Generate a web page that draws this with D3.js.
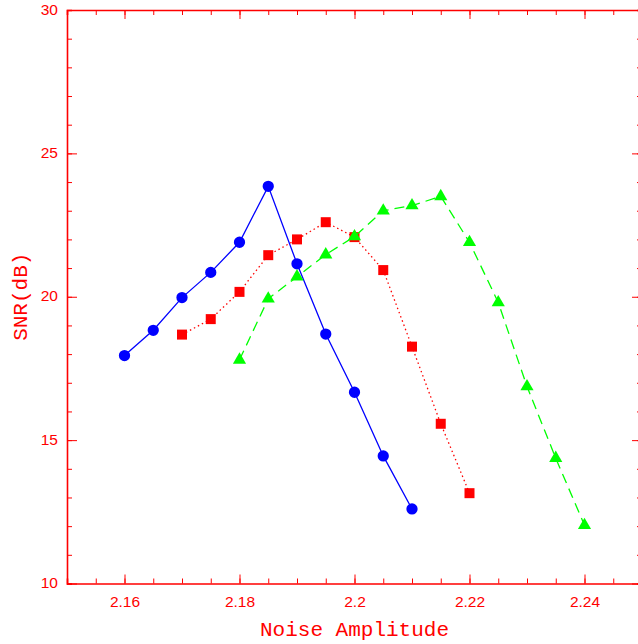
<!DOCTYPE html>
<html><head><meta charset="utf-8">
<script src="https://cdn.jsdelivr.net/npm/d3@7"></script>
<style>body{margin:0;background:#fff}svg{display:block}</style>
</head><body>
<svg id="c" width="638" height="644"></svg>
<script>
const blueX = [2.16,2.165,2.17,2.175,2.18,2.185,2.19,2.195,2.2,2.205,2.21];
const blueY = [17.95,18.83,19.97,20.85,21.9,23.85,21.15,18.7,16.67,14.45,12.6];
const redX = [2.17,2.175,2.18,2.185,2.19,2.195,2.2,2.205,2.21,2.215,2.22];
const redY = [18.68,19.22,20.17,21.45,22.0,22.6,22.08,20.93,18.26,15.57,13.15];
const greenX = [2.18,2.185,2.19,2.195,2.2,2.205,2.21,2.215,2.22,2.225,2.23,2.235,2.24];
const greenY = [17.8,19.93,20.7,21.47,22.1,23.0,23.18,23.5,21.9,19.8,16.87,14.37,12.03];
const xTicks = [2.16,2.18,2.2,2.22,2.24];
const xTickLabels = ["2.16","2.18","2.2","2.22","2.24"];
const yTicks = [10,15,20,25,30];
const yTickLabels = ["10","15","20","25","30"];
const xLabel = "Noise Amplitude";
const yLabel = "SNR(dB)";

const svg = d3.select("#c");
const L = 67, R = 642, T = 10, B = 583.5;
const x = d3.scaleLinear().domain([2.15,2.25]).range([L,R]);
const y = d3.scaleLinear().domain([10,30]).range([B,T]);
const red = "#ff0000";

const xMinor = d3.range(2.15,2.2501,0.005).map(v=>+v.toFixed(3));
const yMinor = d3.range(10,30.01,1);

function styleAxis(g){
  g.select(".domain").attr("stroke",red).attr("stroke-width",1.6);
  g.selectAll(".tick line").attr("stroke",red).attr("stroke-width",1);
  g.selectAll(".tick text").attr("fill",red).attr("font-family","Liberation Sans, Arial, sans-serif").attr("font-size",15.5);
}
// bottom
svg.append("g").attr("transform",`translate(0,${B})`)
  .call(d3.axisBottom(x).tickValues(xMinor).tickSize(-5).tickFormat(""))
  .call(styleAxis);
svg.append("g").attr("transform",`translate(0,${B})`)
  .call(d3.axisBottom(x).tickValues(xTicks).tickSize(-9).tickPadding(19).tickFormat((d,i)=>xTickLabels[i]))
  .call(styleAxis).call(g=>g.select(".domain").remove());
// top
svg.append("g").attr("transform",`translate(0,${T})`)
  .call(d3.axisTop(x).tickValues(xMinor).tickSize(-5).tickFormat(""))
  .call(styleAxis);
svg.append("g").attr("transform",`translate(0,${T})`)
  .call(d3.axisTop(x).tickValues(xTicks).tickSize(-9).tickFormat(""))
  .call(styleAxis).call(g=>g.select(".domain").remove());
// left
svg.append("g").attr("transform",`translate(${L},0)`)
  .call(d3.axisLeft(y).tickValues(yMinor).tickSize(-5).tickFormat(""))
  .call(styleAxis);
svg.append("g").attr("transform",`translate(${L},0)`)
  .call(d3.axisLeft(y).tickValues(yTicks).tickSize(-10).tickPadding(9).tickFormat((d,i)=>yTickLabels[i]))
  .call(styleAxis).call(g=>g.select(".domain").remove());
// right
svg.append("g").attr("transform",`translate(${R},0)`)
  .call(d3.axisRight(y).tickValues(yMinor).tickSize(-5).tickFormat(""))
  .call(styleAxis);
svg.append("g").attr("transform",`translate(${R},0)`)
  .call(d3.axisRight(y).tickValues(yTicks).tickSize(-10).tickFormat(""))
  .call(styleAxis).call(g=>g.select(".domain").remove());
svg.selectAll(".tick text").attr("dy",null).attr("dominant-baseline","middle");

// titles
svg.append("text").attr("x",(L+R)/2).attr("y",636).attr("text-anchor","middle")
  .attr("fill",red).attr("font-family","Courier New, Liberation Mono, monospace").attr("font-size",21)
  .text(xLabel);
svg.append("text").attr("transform",`translate(27,${(T+B)/2}) rotate(-90)`).attr("text-anchor","middle")
  .attr("fill",red).attr("font-family","Courier New, Liberation Mono, monospace").attr("font-size",21)
  .text(yLabel);

function series(xs, ys, color, dash, shape, size){
  const data = xs.map((v,i)=>[v,ys[i]]);
  const line = d3.line().x(d=>x(d[0])).y(d=>y(d[1]));
  svg.append("path").datum(data).attr("d",line).attr("fill","none")
    .attr("stroke",color).attr("stroke-width",1.3).attr("stroke-dasharray",dash);
  svg.append("g").selectAll("path").data(data).join("path")
    .attr("transform",d=>`translate(${x(d[0])},${y(d[1])})`)
    .attr("d",d3.symbol().type(shape).size(size)).attr("fill",color);
}
series(blueX, blueY, "#0000ff", null, d3.symbolCircle, 100);
series(redX, redY, "#ff0000", "1.5,3", d3.symbolSquare, 100);
series(greenX, greenY, "#00ff00", "10,6", d3.symbolTriangle, 75);
</script>
</body></html>
